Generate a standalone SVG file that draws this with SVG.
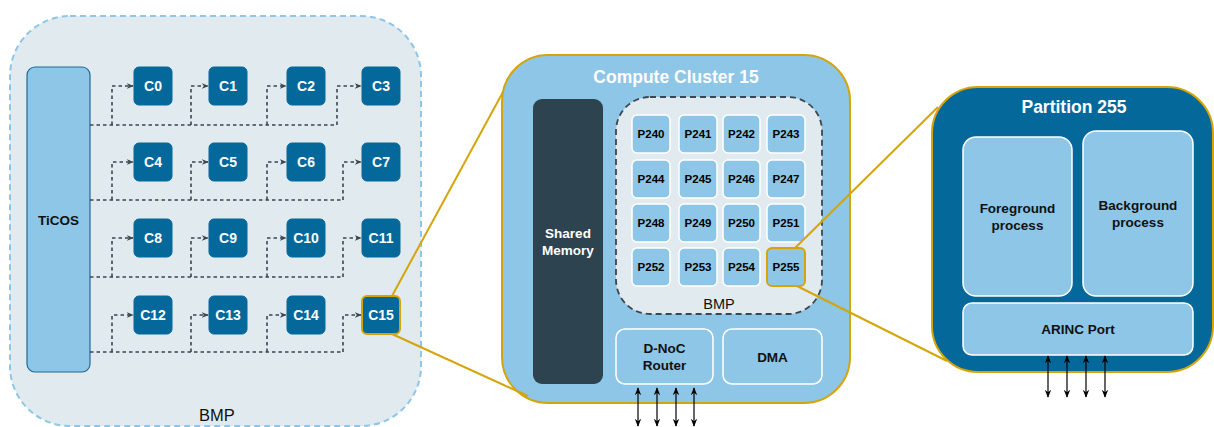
<svg xmlns="http://www.w3.org/2000/svg" width="1214" height="427" viewBox="0 0 1214 427">
  <defs>
    <marker id="dashHead" viewBox="0 0 10 10" refX="9" refY="5" markerWidth="7" markerHeight="7" markerUnits="userSpaceOnUse" orient="auto">
      <path d="M0,1 L10,5 L0,9 L3,5 Z" fill="#3c4650"/>
    </marker>
    <marker id="ioHead" viewBox="0 0 10 10" refX="9" refY="5" markerWidth="8" markerHeight="8" markerUnits="userSpaceOnUse" orient="auto-start-reverse">
      <path d="M0,1 L10,5 L0,9 L3,5 Z" fill="#000"/>
    </marker>
    <style>
      .lbl { font-family: "Liberation Sans", Arial, sans-serif; font-weight: bold; text-anchor: middle; dominant-baseline: central; }
      .core { fill: #05689b; stroke: #05689b; stroke-width: 1; }
      .core-t { fill: #fff; font-size: 14px; }
      .pe { fill: #8dc6e6; stroke: #fff; stroke-width: 1.5; }
      .pe-t { fill: #000; font-size: 11.5px; }
      .blk { fill: #8dc6e6; stroke: #fff; stroke-width: 1.5; }
      .blk-t { fill: #111; font-size: 13.5px; }
      .title { fill: #fff; font-size: 17.5px; }
      .sel { stroke: #d4a50a; stroke-width: 2; }
      .bus { fill: none; stroke: #3c4650; stroke-width: 1.6; stroke-dasharray: 3.5 3; }
      .io { stroke: #000; stroke-width: 1.2; marker-start: url(#ioHead); marker-end: url(#ioHead); }
      .gold { stroke: #d4a50a; stroke-width: 2; }
    </style>
  </defs>

  <!-- Left board: bare-metal platform with TiCOS and 16 clusters -->
  <g id="bmp-board">
    <rect x="10" y="16" width="411" height="410" rx="60" fill="#e1eaee" stroke="#8dc6e6" stroke-width="2" stroke-dasharray="6 4"/>
    <text x="217" y="415" font-family="'Liberation Sans', Arial, sans-serif" font-size="16.5" fill="#111" text-anchor="middle" dominant-baseline="central">BMP</text>
  </g>
  <g id="ticos">
    <rect x="27" y="67" width="63" height="305" rx="8" fill="#8dc6e6" stroke="#1f6a9a" stroke-width="1.2"/>
    <text class="lbl" x="58.5" y="220" font-size="13.5" fill="#111">TiCOS</text>
  </g>

  <g id="clusters">
    <g id="c0"><rect class="core" x="134" y="67" width="38" height="38" rx="5"/><text class="lbl core-t" x="153" y="86">C0</text></g>
    <g id="c1"><rect class="core" x="209" y="67" width="38" height="38" rx="5"/><text class="lbl core-t" x="228" y="86">C1</text></g>
    <g id="c2"><rect class="core" x="287" y="67" width="38" height="38" rx="5"/><text class="lbl core-t" x="306" y="86">C2</text></g>
    <g id="c3"><rect class="core" x="362" y="67" width="38" height="38" rx="5"/><text class="lbl core-t" x="381" y="86">C3</text></g>
    <g id="c4"><rect class="core" x="134" y="143" width="38" height="38" rx="5"/><text class="lbl core-t" x="153" y="162">C4</text></g>
    <g id="c5"><rect class="core" x="209" y="143" width="38" height="38" rx="5"/><text class="lbl core-t" x="228" y="162">C5</text></g>
    <g id="c6"><rect class="core" x="287" y="143" width="38" height="38" rx="5"/><text class="lbl core-t" x="306" y="162">C6</text></g>
    <g id="c7"><rect class="core" x="362" y="143" width="38" height="38" rx="5"/><text class="lbl core-t" x="381" y="162">C7</text></g>
    <g id="c8"><rect class="core" x="134" y="219" width="38" height="38" rx="5"/><text class="lbl core-t" x="153" y="238">C8</text></g>
    <g id="c9"><rect class="core" x="209" y="219" width="38" height="38" rx="5"/><text class="lbl core-t" x="228" y="238">C9</text></g>
    <g id="c10"><rect class="core" x="287" y="219" width="38" height="38" rx="5"/><text class="lbl core-t" x="306" y="238">C10</text></g>
    <g id="c11"><rect class="core" x="362" y="219" width="38" height="38" rx="5"/><text class="lbl core-t" x="381" y="238">C11</text></g>
    <g id="c12"><rect class="core" x="134" y="296" width="38" height="38" rx="5"/><text class="lbl core-t" x="153" y="315">C12</text></g>
    <g id="c13"><rect class="core" x="209" y="296" width="38" height="38" rx="5"/><text class="lbl core-t" x="228" y="315">C13</text></g>
    <g id="c14"><rect class="core" x="287" y="296" width="38" height="38" rx="5"/><text class="lbl core-t" x="306" y="315">C14</text></g>
    <g id="c15"><rect class="core sel" x="362" y="296" width="38" height="38" rx="5"/><text class="lbl core-t" x="381" y="315">C15</text></g>
  </g>

  <!-- Compute cluster 15 -->
  <g id="compute-cluster-15">
    <rect x="502" y="55" width="348" height="348" rx="46" fill="#8dc6e6" stroke="#d4a50a" stroke-width="2"/>
    <text class="lbl title" x="676" y="77">Compute Cluster 15</text>
  </g>
  <g id="shared-memory">
    <rect x="533" y="99" width="70" height="285" rx="9" fill="#2d434f"/>
    <text class="lbl" x="568" y="233" font-size="13.5" fill="#fff">Shared</text>
    <text class="lbl" x="568" y="250" font-size="13.5" fill="#fff">Memory</text>
  </g>
  <g id="cluster-bmp">
    <rect x="616" y="97" width="206" height="217" rx="34" fill="#e1eaee" stroke="#3c4650" stroke-width="1.8" stroke-dasharray="6 4"/>
    <text x="719" y="304" font-family="'Liberation Sans', Arial, sans-serif" font-size="14.5" fill="#111" text-anchor="middle" dominant-baseline="central">BMP</text>
  </g>
  <g id="pes">
    <g id="p240"><rect class="pe" x="632" y="115" width="38" height="38" rx="5"/><text class="lbl pe-t" x="651" y="134">P240</text></g>
    <g id="p241"><rect class="pe" x="679" y="115" width="38" height="38" rx="5"/><text class="lbl pe-t" x="698" y="134">P241</text></g>
    <g id="p242"><rect class="pe" x="723" y="115" width="37" height="38" rx="5"/><text class="lbl pe-t" x="741.5" y="134">P242</text></g>
    <g id="p243"><rect class="pe" x="767" y="115" width="38" height="38" rx="5"/><text class="lbl pe-t" x="786" y="134">P243</text></g>
    <g id="p244"><rect class="pe" x="632" y="160" width="38" height="38" rx="5"/><text class="lbl pe-t" x="651" y="179">P244</text></g>
    <g id="p245"><rect class="pe" x="679" y="160" width="38" height="38" rx="5"/><text class="lbl pe-t" x="698" y="179">P245</text></g>
    <g id="p246"><rect class="pe" x="723" y="160" width="37" height="38" rx="5"/><text class="lbl pe-t" x="741.5" y="179">P246</text></g>
    <g id="p247"><rect class="pe" x="767" y="160" width="38" height="38" rx="5"/><text class="lbl pe-t" x="786" y="179">P247</text></g>
    <g id="p248"><rect class="pe" x="632" y="204" width="38" height="38" rx="5"/><text class="lbl pe-t" x="651" y="223">P248</text></g>
    <g id="p249"><rect class="pe" x="679" y="204" width="38" height="38" rx="5"/><text class="lbl pe-t" x="698" y="223">P249</text></g>
    <g id="p250"><rect class="pe" x="723" y="204" width="37" height="38" rx="5"/><text class="lbl pe-t" x="741.5" y="223">P250</text></g>
    <g id="p251"><rect class="pe" x="767" y="204" width="38" height="38" rx="5"/><text class="lbl pe-t" x="786" y="223">P251</text></g>
    <g id="p252"><rect class="pe" x="632" y="248" width="38" height="38" rx="5"/><text class="lbl pe-t" x="651" y="267">P252</text></g>
    <g id="p253"><rect class="pe" x="679" y="248" width="38" height="38" rx="5"/><text class="lbl pe-t" x="698" y="267">P253</text></g>
    <g id="p254"><rect class="pe" x="723" y="248" width="37" height="38" rx="5"/><text class="lbl pe-t" x="741.5" y="267">P254</text></g>
    <g id="p255"><rect class="pe sel" x="767" y="248" width="38" height="38" rx="5"/><text class="lbl pe-t" x="786" y="267">P255</text></g>
  </g>
  <g id="dnoc-router">
    <rect class="blk" x="616" y="329" width="97" height="55" rx="9"/>
    <text class="lbl blk-t" x="664.5" y="348">D-NoC</text>
    <text class="lbl blk-t" x="664.5" y="365">Router</text>
  </g>
  <g id="dma">
    <rect class="blk" x="723" y="329" width="99" height="55" rx="9"/>
    <text class="lbl blk-t" x="772.5" y="357">DMA</text>
  </g>

  <!-- Partition 255 -->
  <g id="partition-255">
    <rect x="932" y="87" width="281" height="285" rx="46" fill="#05689b" stroke="#d4a50a" stroke-width="2"/>
    <text class="lbl title" x="1074" y="107">Partition 255</text>
  </g>
  <g id="foreground-process">
    <rect class="blk" x="963" y="137" width="109" height="159" rx="13"/>
    <text class="lbl blk-t" x="1017.5" y="208">Foreground</text>
    <text class="lbl blk-t" x="1017.5" y="225">process</text>
  </g>
  <g id="background-process">
    <rect class="blk" x="1083" y="131" width="110" height="165" rx="13"/>
    <text class="lbl blk-t" x="1138" y="205">Background</text>
    <text class="lbl blk-t" x="1138" y="222">process</text>
  </g>
  <g id="arinc-port">
    <rect class="blk" x="963" y="303" width="230" height="52" rx="9"/>
    <text class="lbl blk-t" x="1078" y="329">ARINC Port</text>
  </g>

  <!-- Connectors -->
  <g id="connectors">
    <!-- TiCOS dispatch buses -->
    <path class="bus" d="M90,125 H337"/>
    <path class="bus" d="M112,125 V86 H133" marker-end="url(#dashHead)"/>
    <path class="bus" d="M191,125 V86 H208" marker-end="url(#dashHead)"/>
    <path class="bus" d="M267,125 V86 H286" marker-end="url(#dashHead)"/>
    <path class="bus" d="M337,125 V86 H361" marker-end="url(#dashHead)"/>

    <path class="bus" d="M90,200 H343"/>
    <path class="bus" d="M112,200 V162 H133" marker-end="url(#dashHead)"/>
    <path class="bus" d="M191,200 V162 H208" marker-end="url(#dashHead)"/>
    <path class="bus" d="M267,200 V162 H286" marker-end="url(#dashHead)"/>
    <path class="bus" d="M343,200 V162 H361" marker-end="url(#dashHead)"/>

    <path class="bus" d="M90,277 H343"/>
    <path class="bus" d="M112,277 V238 H133" marker-end="url(#dashHead)"/>
    <path class="bus" d="M191,277 V238 H208" marker-end="url(#dashHead)"/>
    <path class="bus" d="M267,277 V238 H286" marker-end="url(#dashHead)"/>
    <path class="bus" d="M343,277 V238 H361" marker-end="url(#dashHead)"/>

    <path class="bus" d="M90,352 H343"/>
    <path class="bus" d="M112,352 V315 H133" marker-end="url(#dashHead)"/>
    <path class="bus" d="M191,352 V315 H208" marker-end="url(#dashHead)"/>
    <path class="bus" d="M267,352 V315 H286" marker-end="url(#dashHead)"/>
    <path class="bus" d="M343,352 V315 H361" marker-end="url(#dashHead)"/>

    <!-- zoom lines -->
    <line class="gold" x1="392" y1="296" x2="503" y2="92"/>
    <line class="gold" x1="392" y1="334" x2="528" y2="396"/>
    <line class="gold" x1="795" y1="248" x2="938" y2="107"/>
    <line class="gold" x1="797" y1="286" x2="947" y2="361"/>

    <!-- NoC links -->
    <line class="io" x1="638" y1="388" x2="638" y2="426"/>
    <line class="io" x1="657" y1="388" x2="657" y2="426"/>
    <line class="io" x1="676" y1="388" x2="676" y2="426"/>
    <line class="io" x1="694" y1="388" x2="694" y2="426"/>

    <!-- ARINC links -->
    <line class="io" x1="1048" y1="356" x2="1048" y2="397"/>
    <line class="io" x1="1067" y1="356" x2="1067" y2="397"/>
    <line class="io" x1="1086" y1="356" x2="1086" y2="397"/>
    <line class="io" x1="1105" y1="356" x2="1105" y2="397"/>
  </g>
</svg>
